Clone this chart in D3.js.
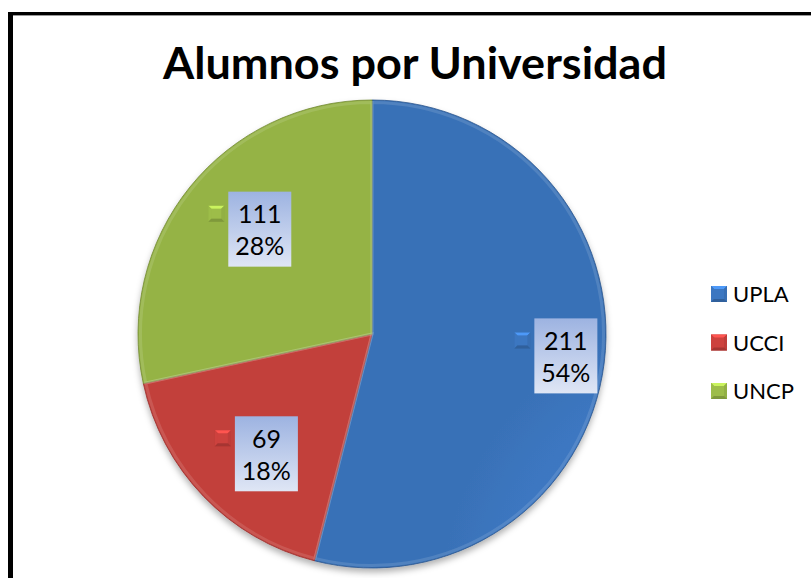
<!DOCTYPE html>
<html><head><meta charset="utf-8">
<script src="https://cdn.jsdelivr.net/npm/d3@7"></script>
<style>html,body{margin:0;padding:0;background:#fff;}svg{display:block;}</style>
</head><body>
<script>
const categories = ["UPLA", "UCCI", "UNCP"];
const values = [211, 69, 111];
const percentLabels = ["54%", "18%", "28%"];
const title = "Alumnos por Universidad";
const baseColors = ["#3c77c1", "#cd423e", "#9dbd49"];
// layout nudges for data labels (px), relative to computed label anchor
const labelNudge = [[3, -2], [2, 16], [14, -3]];

const W = 811, H = 578;
const svg = d3.select("body").append("svg").attr("width", W).attr("height", H);
const defs = svg.append("defs");
const FONT = "Lato, 'Open Sans', sans-serif";

// frame
svg.append("rect").attr("x", 8).attr("y", 12).attr("width", W).attr("height", 3).attr("fill", "#000");
svg.append("rect").attr("x", 13).attr("y", 15).attr("width", W).attr("height", 1).attr("fill", "#999");
svg.append("rect").attr("x", 8).attr("y", 12).attr("width", 5).attr("height", H).attr("fill", "#000");

// title
svg.append("text").attr("x", 415).attr("y", 79).attr("text-anchor", "middle")
  .attr("font-family", FONT).attr("font-weight", "bold").attr("font-size", 44)
  .attr("textLength", 504).attr("lengthAdjust", "spacingAndGlyphs")
  .attr("fill", "#000").text(title);

const cx = 372, cy = 334, R = 234;
const color = d3.scaleOrdinal().domain(categories).range(baseColors);
const pie = d3.pie().sort(null).value(d => d.v);
const data = categories.map((c, i) => ({c, v: values[i], p: percentLabels[i]}));
const arcs = pie(data);
const arc = d3.arc().innerRadius(0).outerRadius(R);

categories.forEach((c, i) => {
  const base = d3.color(color(c));
  const g = defs.append("radialGradient").attr("id", "sg" + i)
    .attr("gradientUnits", "userSpaceOnUse").attr("cx", cx).attr("cy", cy - 60).attr("r", R * 1.3);
  g.append("stop").attr("offset", "0%").attr("stop-color", base.brighter(0.15));
  g.append("stop").attr("offset", "80%").attr("stop-color", base);
  g.append("stop").attr("offset", "100%").attr("stop-color", base.darker(0.15));
});
const sh = defs.append("filter").attr("id", "shadow").attr("x", "-10%").attr("y", "-10%").attr("width", "120%").attr("height", "120%");
sh.append("feDropShadow").attr("dx", 0).attr("dy", 4).attr("stdDeviation", 3).attr("flood-color", "#000").attr("flood-opacity", 0.3);

const g = svg.append("g").attr("transform", `translate(${cx},${cy})`);
g.append("g").attr("filter", "url(#shadow)").selectAll("path").data(arcs).join("path")
  .attr("d", arc).attr("fill", (d, i) => `url(#sg${i})`)
  .attr("stroke", d => d3.color(color(d.data.c)).darker(0.9)).attr("stroke-width", 0.8);
const inner = d3.arc().innerRadius(0).outerRadius(R - 2.5);
g.append("g").selectAll("path").data(arcs).join("path")
  .attr("d", inner).attr("fill", "none")
  .attr("stroke", "#fff").attr("stroke-opacity", 0.12).attr("stroke-width", 3);

function marker(sel, x, y, s, base) {
  const c = d3.color(base);
  const m = sel.append("g").attr("transform", `translate(${x},${y})`);
  m.append("rect").attr("width", s).attr("height", s).attr("fill", c.darker(0.3));
  const b = 3;
  m.append("path").attr("d", `M0,0L${s},0L${s/2},${s/2}Z`).attr("fill", c.brighter(0.7));
  m.append("path").attr("d", `M0,0L${s/2},${s/2}L0,${s}Z`).attr("fill", c);
  m.append("path").attr("d", `M${s},0L${s/2},${s/2}L${s},${s}Z`).attr("fill", c.darker(0.2));
  m.append("path").attr("d", `M0,${s}L${s/2},${s/2}L${s},${s}Z`).attr("fill", c.darker(0.6));
  m.append("rect").attr("x", b).attr("y", b).attr("width", s - 2*b).attr("height", s - 2*b).attr("fill", c);
}

const bg = defs.append("linearGradient").attr("id", "lblg").attr("x1", 0).attr("y1", 0).attr("x2", 0).attr("y2", 1);
bg.append("stop").attr("offset", "0%").attr("stop-color", "#9db3e1");
bg.append("stop").attr("offset", "100%").attr("stop-color", "#dfe6f5");
const boxW = 63, boxH = 75;
arcs.forEach((a, i) => {
  const span = (a.endAngle - a.startAngle) * 180 / Math.PI;
  const rl = R * (0.55 + 0.0014 * span);
  const mid = (a.startAngle + a.endAngle) / 2;
  const bx = cx + rl * Math.sin(mid) + labelNudge[i][0];
  const by = cy - rl * Math.cos(mid) + labelNudge[i][1];
  svg.append("rect").attr("x", bx - boxW / 2).attr("y", by - boxH / 2)
    .attr("width", boxW).attr("height", boxH).attr("fill", "url(#lblg)");
  marker(svg, bx - boxW / 2 - 20, by - boxH / 2 + 14, 16, color(a.data.c));
  svg.append("text").attr("x", bx).attr("y", by - 6).attr("text-anchor", "middle")
    .attr("font-family", FONT).attr("font-size", 25).attr("fill", "#000").text(a.data.v);
  svg.append("text").attr("x", bx).attr("y", by + 26).attr("text-anchor", "middle")
    .attr("font-family", FONT).attr("font-size", 25).attr("fill", "#000").text(a.data.p);
});

const ly = d3.scalePoint().domain(categories).range([294, 391]);
categories.forEach(c => {
  marker(svg, 711, ly(c) - 8, 16, color(c));
  svg.append("text").attr("x", 733).attr("y", ly(c) + 8)
    .attr("font-family", FONT).attr("font-size", 22).attr("fill", "#000").text(c);
});
</script>
</body></html>
